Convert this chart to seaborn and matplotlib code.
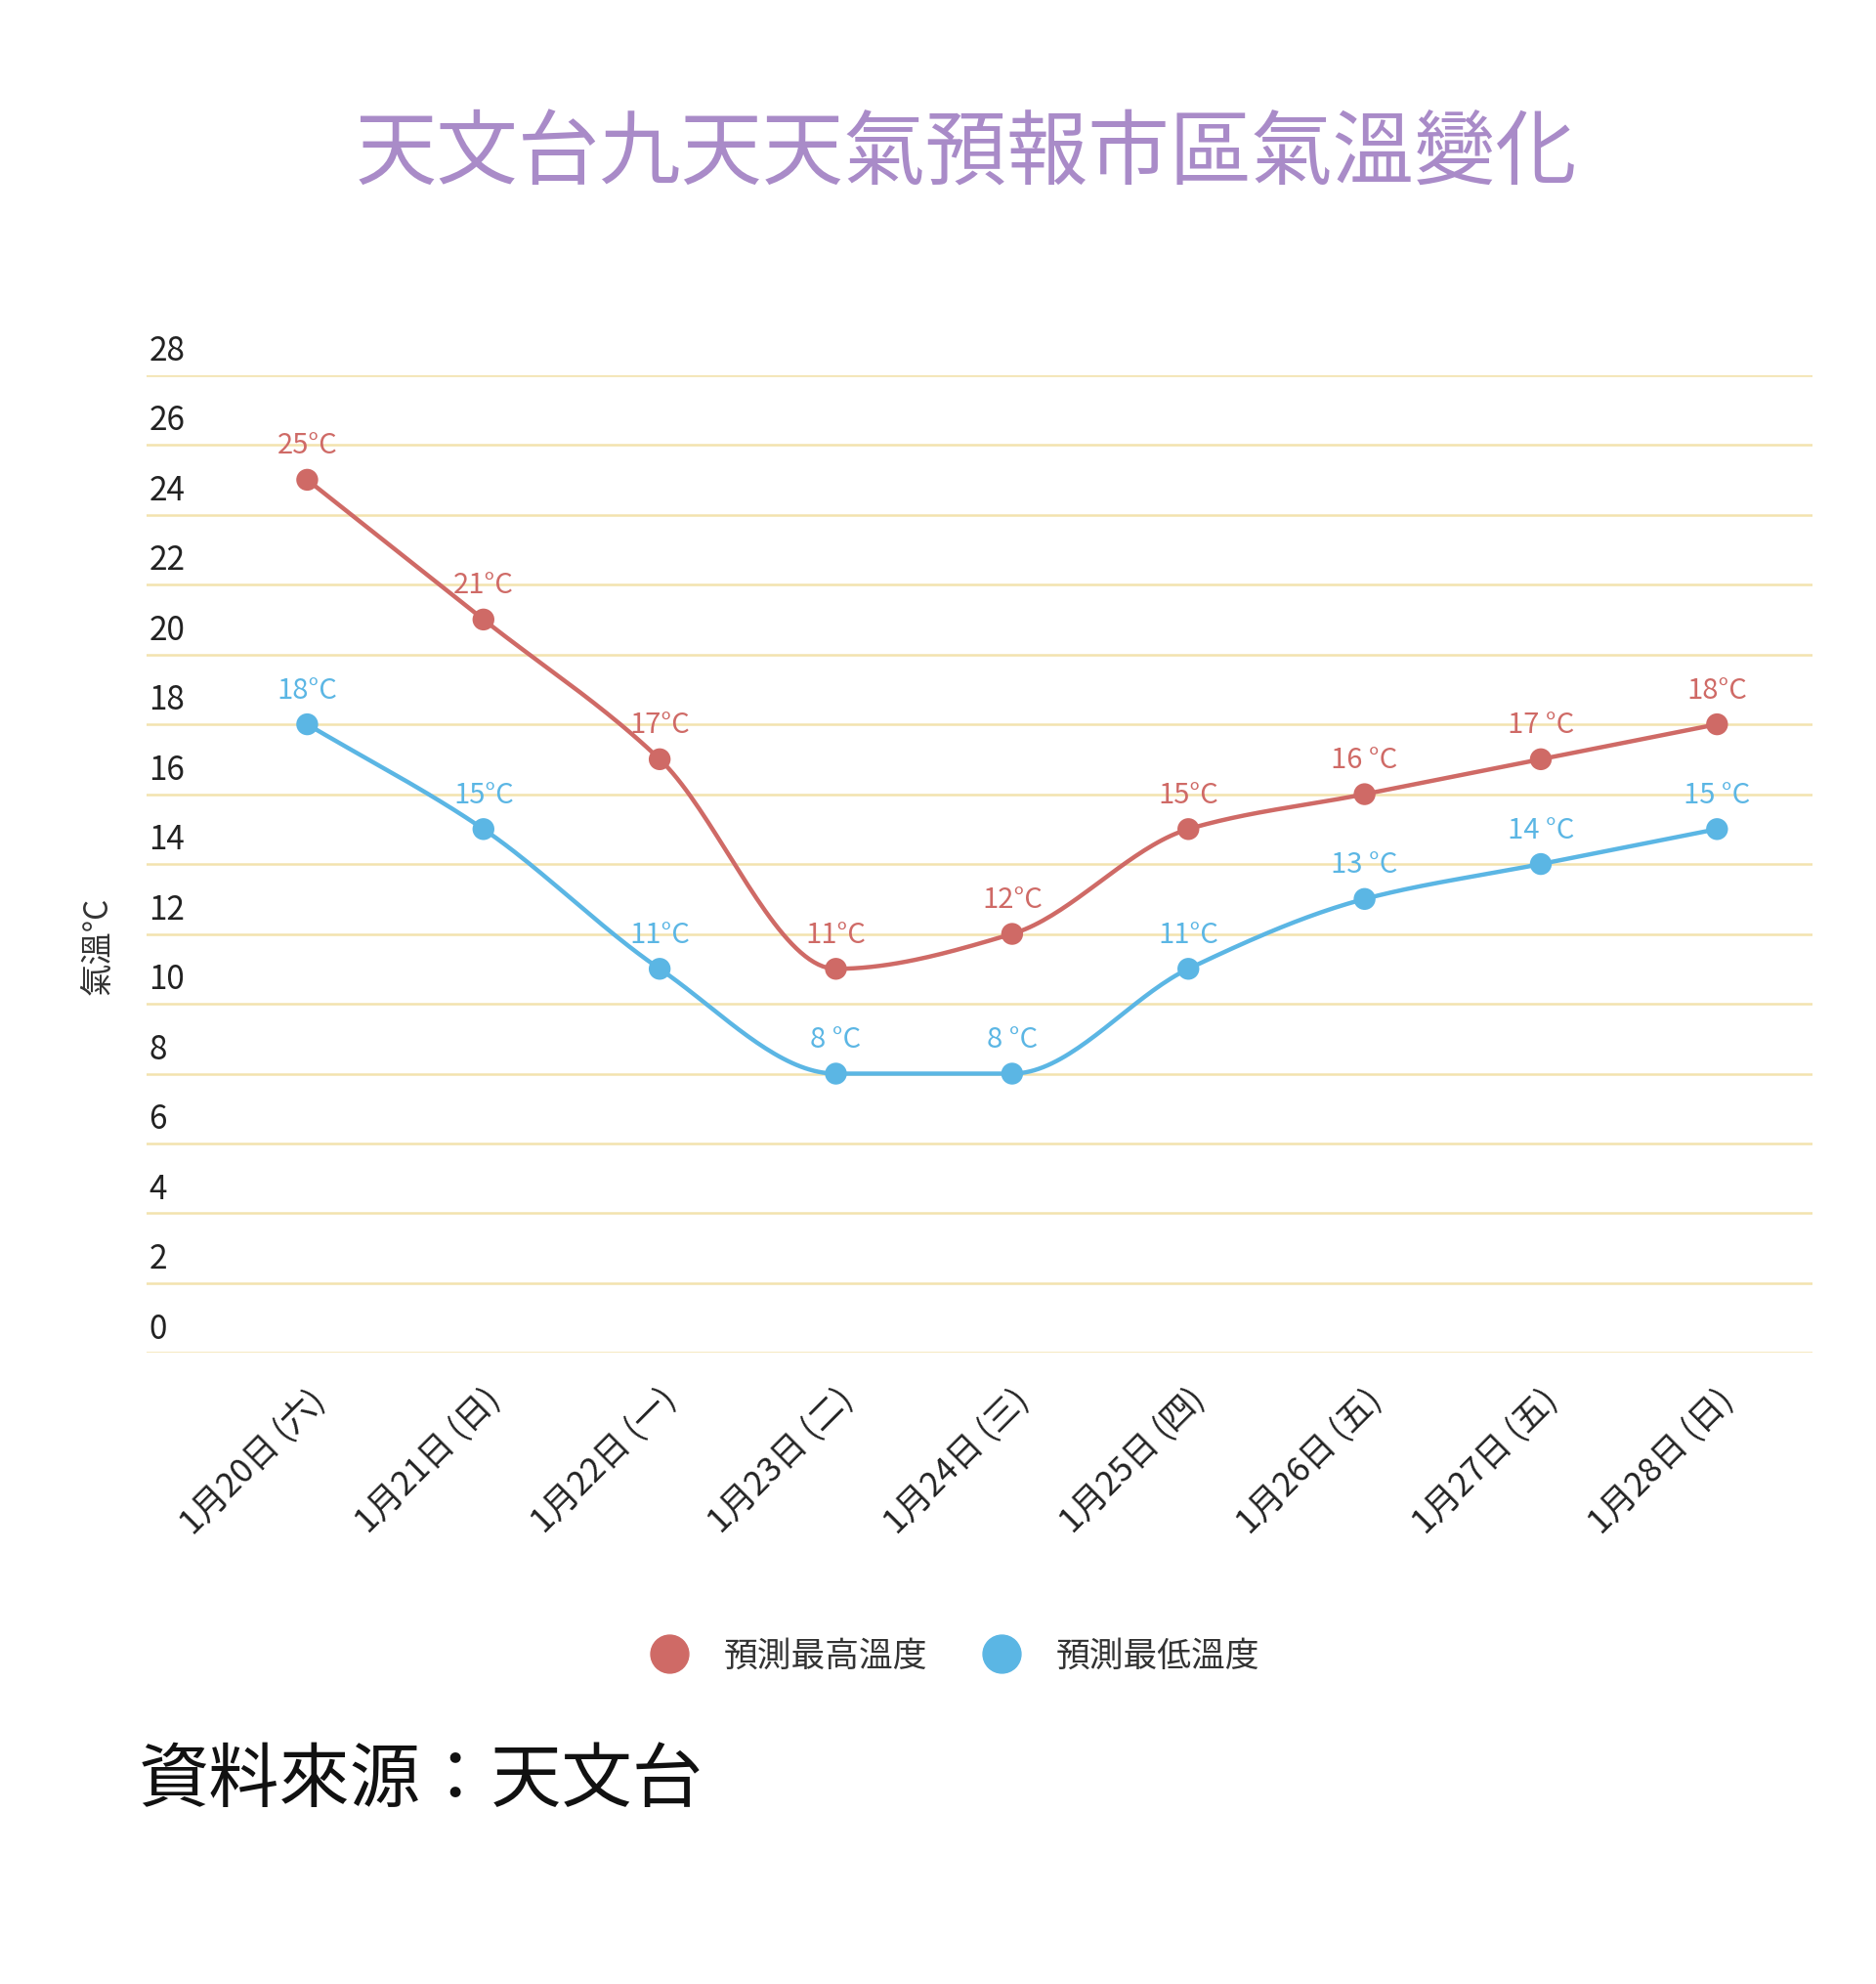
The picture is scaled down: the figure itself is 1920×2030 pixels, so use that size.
import numpy as np
import pandas as pd
import matplotlib
matplotlib.use("Agg")
import matplotlib.pyplot as plt
import seaborn as sns
from matplotlib.lines import Line2D

plt.rcParams["font.family"] = ["Noto Sans CJK JP", "Noto Sans CJK TC", "Noto Sans CJK SC",
                               "Noto Sans CJK KR", "DejaVu Sans"]

dates = ["1月20日 (六)", "1月21日 (日)", "1月22日 (一)", "1月23日 (二)", "1月24日 (三)",
         "1月25日 (四)", "1月26日 (五)", "1月27日 (五)", "1月28日 (日)"]
high = [25, 21, 17, 11, 12, 15, 16, 17, 18]
low = [18, 15, 11, 8, 8, 11, 13, 14, 15]
high_labels = ["25°C", "21°C", "17°C", "11°C", "12°C", "15°C", "16 °C", "17 °C", "18°C"]
low_labels = ["18°C", "15°C", "11°C", "8 °C", "8 °C", "11°C", "13 °C", "14 °C", "15 °C"]
yticks = list(range(0, 29, 2))

RED = "#cf6a66"
BLUE = "#5bb6e4"


def monotone_path(y, n=40):
    # Fritsch-Carlson monotone cubic, used only to render a smooth line through the points
    x = np.arange(len(y), dtype=float)
    y = np.asarray(y, float)
    d = np.diff(y)
    m = np.zeros_like(y)
    m[0], m[-1] = d[0], d[-1]
    for i in range(1, len(y) - 1):
        if d[i - 1] * d[i] <= 0:
            m[i] = 0
        else:
            m[i] = 2 / (1 / d[i - 1] + 1 / d[i])
    xs, ys = [], []
    for i in range(len(y) - 1):
        t = np.linspace(0, 1, n, endpoint=False)
        h00 = 2*t**3 - 3*t**2 + 1; h10 = t**3 - 2*t**2 + t
        h01 = -2*t**3 + 3*t**2; h11 = t**3 - t**2
        xs.append(x[i] + t)
        ys.append(h00*y[i] + h10*m[i] + h01*y[i+1] + h11*m[i+1])
    xs.append([x[-1]]); ys.append([y[-1]])
    return np.concatenate(xs), np.concatenate(ys)


fig = plt.figure(figsize=(19.2, 20.3), dpi=100)
ax = fig.add_axes([0.078, 0.318, 0.888, 0.493])

for vals, col in [(high, RED), (low, BLUE)]:
    px, py = monotone_path(vals)
    sns.lineplot(x=px, y=py, ax=ax, color=col, linewidth=3.2, sort=False)
    df = pd.DataFrame({"x": np.arange(len(vals)), "y": vals})
    sns.scatterplot(data=df, x="x", y="y", ax=ax, color=col, s=260, edgecolor="none", zorder=5)

for i, (v, t) in enumerate(zip(high, high_labels)):
    ax.annotate(t, (i, v), xytext=(0, 14), textcoords="offset points", ha="center",
                va="bottom", color=RED, fontsize=21)
for i, (v, t) in enumerate(zip(low, low_labels)):
    ax.annotate(t, (i, v), xytext=(0, 14), textcoords="offset points", ha="center",
                va="bottom", color=BLUE, fontsize=21)

ax.set_xlim(-0.913, 8.54)
ax.set_ylim(0, 28)
ax.set_yticks(yticks)
ax.yaxis.grid(True, color="#f3e3ae", linewidth=1.8)
ax.set_axisbelow(True)
ax.tick_params(axis="y", length=0, labelleft=False)
for yv in yticks:
    ax.annotate(str(yv), (0, yv), xycoords=("axes fraction", "data"), xytext=(2, 5),
                textcoords="offset points", ha="left", va="bottom", fontsize=24, color="#222222")
ax.set_xticks(range(len(dates)))
ax.set_xticklabels(dates, rotation=45, ha="right", rotation_mode="anchor", fontsize=25, color="#222222")
ax.tick_params(axis="x", length=0, pad=22)
for s in ax.spines.values():
    s.set_visible(False)
ax.set_xlabel("")
ax.set_ylabel("")

fig.text(0.052, 0.523, "氣溫°C", rotation=90, ha="center", va="center", fontsize=24, color="#333333")
fig.text(0.515, 0.922, "天文台九天天氣預報市區氣溫變化", ha="center", va="center",
         fontsize=60, color="#a98bc8")

handles = [Line2D([], [], marker="o", linestyle="", markersize=28, color=RED),
           Line2D([], [], marker="o", linestyle="", markersize=28, color=BLUE)]
fig.legend(handles, ["預測最高溫度", "預測最低溫度"], loc="center", bbox_to_anchor=(0.505, 0.165),
           ncol=2, frameon=False, fontsize=25, handletextpad=0.6, columnspacing=1.2,
           labelcolor="#333333")
fig.text(0.074, 0.102, "資料來源：天文台", ha="left", va="center", fontsize=52, color="#111111")

fig.savefig("out.png", dpi=100, facecolor="white")
